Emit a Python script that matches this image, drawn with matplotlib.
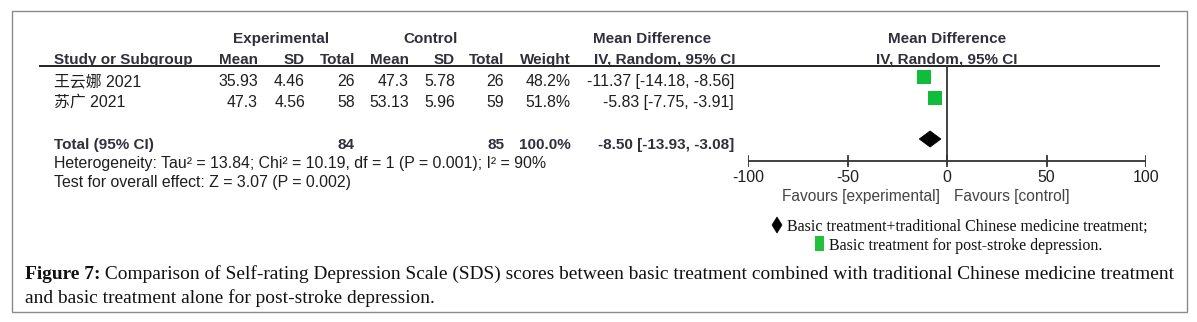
import matplotlib
matplotlib.use("Agg")
import matplotlib.pyplot as plt
from matplotlib.patches import Rectangle, Polygon

# ---------------- data ----------------
studies = ["王云娜 2021", "苏广 2021"]
exp_mean = [35.93, 47.3]
exp_sd = [4.46, 4.56]
exp_n = [26, 58]
ctl_mean = [47.3, 53.13]
ctl_sd = [5.78, 5.96]
ctl_n = [26, 59]
weights = [48.2, 51.8]
md = [-11.37, -5.83]
md_lo = [-14.18, -7.75]
md_hi = [-8.56, -3.91]
total_exp_n = 84
total_ctl_n = 85
total_weight = 100.0
total_md = -8.50
total_lo = -13.93
total_hi = -3.08
ticks = [-100, -50, 0, 50, 100]
heterogeneity = "Heterogeneity: Tau² = 13.84; Chi² = 10.19, df = 1 (P = 0.001); I² = 90%"
overall = "Test for overall effect: Z = 3.07 (P = 0.002)"
fav_left = "Favours [experimental]"
fav_right = "Favours [control]"
legend1 = "Basic treatment+traditional Chinese medicine treatment;"
legend2 = "Basic treatment for post-stroke depression."
cap_bold = "Figure 7:"
cap_line1 = " Comparison of Self-rating Depression Scale (SDS) scores between basic treatment combined with traditional Chinese medicine treatment"
cap_line2 = "and basic treatment alone for post-stroke depression."

W, H = 1197, 322
fig = plt.figure(figsize=(W / 100, H / 100), dpi=100)
ax = fig.add_axes([0, 0, 1, 1])
ax.set_xlim(0, W)
ax.set_ylim(H, 0)
ax.axis("off")

SANS = ["Liberation Sans", "Noto Sans CJK SC", "DejaVu Sans"]
SERIF = ["Liberation Serif", "DejaVu Serif"]
FSB = 11.0   # bold header text
FS = 11.4    # regular text
TXT = "#1e1e1e"
HDR = "#30303c"
GREEN = "#0fbd3a"

def t(x, y, s, ha="left", bold=False, color=TXT, fs=None, fam=SANS, target=None):
    a = target if target is not None else ax
    if fs is None:
        fs = FSB if bold else FS
    return a.text(x, y, s, ha=ha, va="baseline", fontsize=fs, family=fam,
                  fontweight="bold" if bold else "normal", color=color, clip_on=False)

# outer border
ax.add_patch(Rectangle((11.5, 10.5), 1175.5, 301.5, fill=False, ec="#8a8a8a", lw=1.0))

# headers
y_h1, y_h2 = 43, 63.5
t(281.5, y_h1, "Experimental", ha="center", bold=True, color=HDR)
t(430.5, y_h1, "Control", ha="center", bold=True, color=HDR)
t(652, y_h1, "Mean Difference", ha="center", bold=True, color=HDR)
t(947, y_h1, "Mean Difference", ha="center", bold=True, color=HDR)
t(54, y_h2, "Study or Subgroup", bold=True, color=HDR)
col_r = [258, 305, 355, 409, 455, 504, 571]
hdrs = ["Mean", "SD", "Total", "Mean", "SD", "Total", "Weight"]
for x, h in zip(col_r, hdrs):
    t(x, y_h2, h, ha="right", bold=True, color=HDR)
t(735, y_h2, "IV, Random, 95% CI", ha="right", bold=True, color=HDR)
t(947, y_h2, "IV, Random, 95% CI", ha="center", bold=True, color=HDR)

ax.plot([39, 1160], [66.4, 66.4], color="#222222", lw=1.4, solid_capstyle="butt")

# study rows
row_y = [86, 106.5]
for i, name in enumerate(studies):
    y = row_y[i]
    t(54, y, name)
    vals = [f"{exp_mean[i]:g}", f"{exp_sd[i]:g}", f"{exp_n[i]}",
            f"{ctl_mean[i]:g}", f"{ctl_sd[i]:g}", f"{ctl_n[i]}",
            f"{weights[i]:.1f}%"]
    for x, v in zip(col_r, vals):
        t(x, y, v, ha="right")
    t(734, y, f"{md[i]:.2f} [{md_lo[i]:.2f}, {md_hi[i]:.2f}]", ha="right")

y_tot = 149
t(54, y_tot, "Total (95% CI)", bold=True, color=HDR)
t(col_r[2], y_tot, f"{total_exp_n}", ha="right", bold=True, color=HDR)
t(col_r[5], y_tot, f"{total_ctl_n}", ha="right", bold=True, color=HDR)
t(col_r[6], y_tot, f"{total_weight:.1f}%", ha="right", bold=True, color=HDR)
t(734, y_tot, f"{total_md:.2f} [{total_lo:.2f}, {total_hi:.2f}]", ha="right", bold=True, color=HDR)
t(54, 167.5, heterogeneity)
t(54, 186.5, overall)

# forest axes: x in mean-difference units, y in pixel rows
x0, x1 = 748, 1146
fy0, fy1 = 60, 210
fax = fig.add_axes([x0 / W, 1 - fy1 / H, (x1 - x0) / W, (fy1 - fy0) / H])
fax.set_xlim(-100, 100)
fax.set_ylim(fy1, fy0)
fax.axis("off")

sq_y = [77, 97.7]
for i in range(len(studies)):
    fax.plot([md_lo[i], md_hi[i]], [sq_y[i], sq_y[i]], color="black", lw=1)
    fax.plot(md[i], sq_y[i], marker="s", ms=9.4, color=GREEN, mec=GREEN, mew=0)
dy = 139
fax.add_patch(Polygon([(total_lo, dy), (total_md, dy - 8), (total_hi, dy), (total_md, dy + 8)],
                      closed=True, fc="black", ec="black", lw=0.6))
axis_y = 161
fax.plot([0, 0], [66.4, axis_y], color="#333333", lw=1.3)
fax.plot([ticks[0], ticks[-1]], [axis_y, axis_y], color="#333333", lw=1.3)
for tk in ticks:
    fax.plot([tk, tk], [155.5, 165.5], color="#333333", lw=1.3)
    t(tk, 181.5, f"{tk}", ha="center", target=fax)

t(940, 200.5, fav_left, ha="right", color="#444444", fs=11.2)
t(954, 200.5, fav_right, ha="left", color="#444444", fs=11.2)

# legend
ax.add_patch(Polygon([(772, 225), (777, 217), (782, 225), (777, 233)], closed=True,
                     fc="black", ec="black", lw=0.5))
t(787, 230.5, legend1, fs=11.5, fam=SERIF, color="#111111")
ax.add_patch(Rectangle((815, 236), 9, 15, fc="#22c03c", ec="none"))
t(829, 250, legend2, fs=11.5, fam=SERIF, color="#111111")

# caption
cap_fs = 13.95
tb = ax.text(25, 279, cap_bold, ha="left", va="baseline", fontsize=cap_fs, family=SERIF,
             fontweight="bold", color="#111111")
fig.canvas.draw()
bb = tb.get_window_extent()
inv = ax.transData.inverted()
xend = inv.transform((bb.x1, bb.y0))[0]
ax.text(xend, 279, cap_line1, ha="left", va="baseline", fontsize=cap_fs, family=SERIF, color="#111111")
ax.text(25, 303, cap_line2, ha="left", va="baseline", fontsize=cap_fs, family=SERIF, color="#111111")

fig.savefig("out.png", dpi=100)
